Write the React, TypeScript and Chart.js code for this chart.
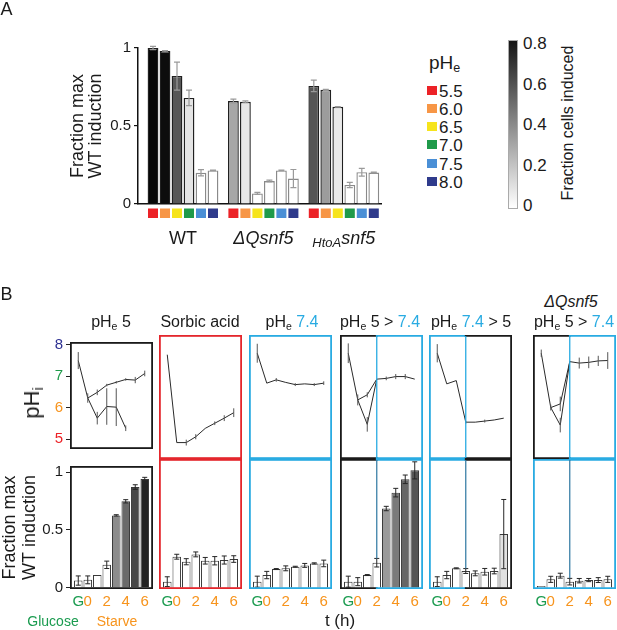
import React, { useEffect, useRef } from 'react';
import { Chart, registerables } from 'chart.js';

Chart.register(...registerables);

const FONT = "'Liberation Sans', Arial, Helvetica, sans-serif";
Chart.defaults.font.family = FONT;
Chart.defaults.color = '#1a1a1a';

// ================= Panel A data =================
const strainNames = ['WT', 'ΔQsnf5', 'HtoAsnf5'];
const pheLevels = ['5.5', '6.0', '6.5', '7.0', '7.5', '8.0'];
const wtInduction = [1.0, 0.98, 0.82, 0.68, 0.2, 0.215];
const wtInductionErr = [0.01, 0.004, 0.09, 0.05, 0.02, 0.002];
const dqInduction = [0.66, 0.655, 0.068, 0.147, 0.215, 0.163];
const dqInductionErr = [0.012, 0.006, 0.006, 0.006, 0.002, 0.058];
const htoaInduction = [0.757, 0.732, 0.623, 0.122, 0.204, 0.202];
const htoaInductionErr = [0.037, 0.003, 0.002, 0.017, 0.025, 0.003];
const inductionTicks = [0, 0.5, 1];
const colorbarTicks = [0, 0.2, 0.4, 0.6, 0.8];

// ================= Panel B data =================
const timePoints = [-1, 0, 1, 2, 3, 4, 5, 6]; // -1 = G (glucose)
const timeTicks = [-1, 0, 2, 4, 6];
const phiTicks = [5, 6, 7, 8];

// pHe 5
const ph5PathA = [7.5, 6.31, 5.67, 6.04, 6.02, 5.35, null, null];
const ph5PathAErr = [0.27, 0.15, 0.2, 0.58, 0.6, 0.09, null, null];
const ph5PathB = [null, 6.31, 6.49, 6.72, 6.81, 6.9, 6.88, 7.09];
const ph5PathBErr = [null, 0, 0.09, 0.04, 0.04, 0.04, 0.1, 0.09];
const ph5Induction = [0.062, 0.068, 0.111, 0.198, 0.625, 0.747, 0.87, 0.94];
const ph5InductionErr = [0.04, 0.034, 0, 0.032, 0.006, 0.014, 0.02, 0.014];

// Sorbic acid
const sorbicPath = [7.55, 5.14, 5.14, 5.3, 5.53, 5.67, 5.81, 5.96];
const sorbicPathErr = [0, 0, 0.08, 0.07, 0, 0.05, 0.08, 0.12];
const sorbicInduction = [0.049, 0.253, 0.212, 0.272, 0.22, 0.22, 0.226, 0.234];
const sorbicInductionErr = [0.04, 0.02, 0.025, 0.02, 0.027, 0.034, 0.033, 0.027];

// pHe 7.4
const ph74Path = [7.59, 6.77, 6.86, 6.79, 6.73, 6.75, 6.73, 6.77];
const ph74PathErr = [0.26, 0, 0.05, 0, 0.04, 0, 0.04, 0.05];
const ph74Induction = [0.049, 0.103, 0.152, 0.158, 0.171, 0.182, 0.198, 0.198];
const ph74InductionErr = [0.045, 0.03, 0.004, 0.02, 0.004, 0.016, 0.005, 0.027];

// pHe 5 > 7.4
const shiftUpPathA = [7.59, 6.31, 5.64, 6.88, null, null, null, null];
const shiftUpPathAErr = [0.27, 0.15, 0.2, 0, null, null, null, null];
const shiftUpPathB = [null, 6.31, 6.45, 6.88, 6.9, 6.95, 6.95, 6.88];
const shiftUpPathBErr = [null, 0, 0.07, 0, 0.05, 0.07, 0.07, 0];
const shiftUpInduction = [0.049, 0.049, 0.103, 0.204, 0.647, 0.777, 0.886, 0.959];
const shiftUpInductionErr = [0.045, 0.033, 0.004, 0.035, 0.018, 0.035, 0.035, 0.07];

// pHe 7.4 > 5
const shiftDownPath = [7.59, 6.75, 6.84, 5.7, 5.7, 5.73, 5.76, 5.81];
const shiftDownPathErr = [0.25, 0, 0, 0.04, 0, 0.04, 0, 0];
const shiftDownInduction = [0.049, 0.103, 0.158, 0.136, 0.117, 0.13, 0.136, 0.438];
const shiftDownInductionErr = [0.04, 0.03, 0.004, 0.02, 0.02, 0.027, 0.023, 0.283];

// ΔQsnf5, pHe 5 > 7.4
const dqShiftPathA = [7.59, 6.1, 5.62, 7.36, null, null, null, null];
const dqShiftPathAErr = [0.1, 0.08, 0.2, 0, null, null, null, null];
const dqShiftPathB = [null, 6.1, 6.2, 7.36, 7.32, 7.34, 7.38, 7.39];
const dqShiftPathBErr = [null, 0, 0.2, 0, 0.15, 0.16, 0.14, 0.23];
const dqShiftInduction = [0.014, 0.068, 0.098, 0.049, 0.057, 0.062, 0.062, 0.068];
const dqShiftInductionErr = [0, 0.025, 0.02, 0.027, 0.018, 0.013, 0.02, 0.025];

// ================= Styles =================
const PHE_COLORS = ['#ec2227', '#f79646', '#f6e41c', '#1f9a4a', '#4a8fd6', '#2f3b8c'];
const PHI_TICK_COLORS: Record<number, string> = { 5: '#ec2227', 6: '#f7941d', 7: '#1f9a4a', 8: '#2e3192' };
const GREEN = '#1a9b4f';
const ORANGE = '#f7941d';
const BLACK = '#1a1a1a';
const RED = '#e4262c';
const BLUE = '#29abe2';
const DIVIDER = '#3c80a8';
const W = '#ffffff';

const wtFill = ['#070707', '#0d0d0d', '#575757', '#e4e4e4', W, W];
const dqFill = ['#a7a7a7', '#e6e6e6', W, W, W, W];
const htoaFill = ['#555555', '#9c9c9c', '#eaeaea', W, W, W];
const ph5Fill = [W, W, W, W, '#8c8c8c', '#6a6a6a', '#474747', '#222222'];
const shiftUpFill = [W, W, W, W, '#9a9a9a', '#7a7a7a', '#666666', '#555555'];
const shiftDownFill = [W, W, W, W, W, W, W, '#e2e2e2'];
const allWhite = [W, W, W, W, W, W, W, W];

// layout constants for panel B
const X_MIN = -1.87;
const X_MAX = 6.87;
const BOX_W = 83;
const UP_TOP = 335;
const UP_BOT = 459;
const LO_TOP = 459;
const LO_BOT = 589;
const GROUP_STEP = 6.7;

// ================= plugins =================
const errorBarsPlugin = {
  id: 'errorBars',
  afterDatasetsDraw(chart: any) {
    const { ctx } = chart;
    chart.data.datasets.forEach((ds: any, i: number) => {
      const meta = chart.getDatasetMeta(i);
      const xs = chart.scales[meta.xAxisID];
      const ys = chart.scales[meta.yAxisID];
      const st = ds.errStyle || { color: '#333', width: 1, cap: 4 };
      ctx.save();
      ctx.strokeStyle = st.color;
      ctx.lineWidth = st.width;
      ds.data.forEach((p: any) => {
        if (!p || !p.e) return;
        const x = xs.getPixelForValue(p.x);
        const y1 = ys.getPixelForValue(p.y + p.e);
        const y2 = ys.getPixelForValue(p.y - p.e);
        ctx.beginPath();
        ctx.moveTo(x, y1);
        ctx.lineTo(x, y2);
        if (st.cap) {
          ctx.moveTo(x - st.cap / 2, y1);
          ctx.lineTo(x + st.cap / 2, y1);
          ctx.moveTo(x - st.cap / 2, y2);
          ctx.lineTo(x + st.cap / 2, y2);
        }
        ctx.stroke();
      });
      ctx.restore();
    });
  },
};

function makeBoxPlugin(spec: { colors: string[]; divider: number | null; dividerColor?: string; dividerTo?: number | null }) {
  return {
    id: 'panelBox',
    afterDraw(chart: any) {
      const { ctx, chartArea: a, scales } = chart;
      const lw = 1.8;
      const h = lw / 2;
      const L = a.left + h, R = a.right - h, T = a.top + h, B = a.bottom - h;
      ctx.save();
      ctx.lineWidth = lw;
      ctx.lineCap = 'square';
      if (spec.divider == null) {
        ctx.strokeStyle = spec.colors[0];
        ctx.strokeRect(L, T, R - L, B - T);
      } else {
        const dx = scales.x.getPixelForValue(spec.divider);
        ctx.strokeStyle = spec.colors[0];
        ctx.beginPath();
        ctx.moveTo(dx, T); ctx.lineTo(L, T); ctx.lineTo(L, B); ctx.lineTo(dx, B);
        ctx.stroke();
        ctx.strokeStyle = spec.colors[1];
        ctx.beginPath();
        ctx.moveTo(dx, T); ctx.lineTo(R, T); ctx.lineTo(R, B); ctx.lineTo(dx, B);
        ctx.stroke();
        const yEnd = spec.dividerTo != null ? scales.y.getPixelForValue(spec.dividerTo) : B;
        ctx.strokeStyle = spec.dividerColor || BLUE;
        ctx.lineWidth = 1.3;
        ctx.lineCap = 'butt';
        ctx.beginPath();
        ctx.moveTo(dx, T);
        ctx.lineTo(dx, yEnd);
        ctx.stroke();
      }
      ctx.restore();
    },
  };
}

// ================= Panel A config =================
const strainValues = [wtInduction, dqInduction, htoaInduction];
const strainErrors = [wtInductionErr, dqInductionErr, htoaInductionErr];
const strainFills = [wtFill, dqFill, htoaFill];
const strainLabelParts = [
  [{ t: 'WT', it: false, sub: false }],
  [{ t: 'ΔQsnf5', it: true, sub: false }],
  [{ t: 'HtoA', it: true, sub: true }, { t: 'snf5', it: true, sub: false }],
];

const strainDecorPlugin = {
  id: 'strainDecor',
  afterDraw(chart: any) {
    const { ctx, chartArea: a, scales } = chart;
    const x = scales.x;
    ctx.save();
    strainValues.forEach((vals, g) => {
      vals.forEach((_, i) => {
        const px = x.getPixelForValue(g * GROUP_STEP + i);
        ctx.fillStyle = PHE_COLORS[i];
        ctx.fillRect(px - 5, a.bottom + 4.5, 10, 9.5);
      });
      const center = x.getPixelForValue(g * GROUP_STEP + (vals.length - 1) / 2);
      const parts = strainLabelParts[g];
      const fonts = parts.map((p) => `${p.it ? 'italic ' : ''}${p.sub ? 13 : 18}px ${FONT}`);
      const widths = parts.map((p, k) => {
        ctx.font = fonts[k];
        return ctx.measureText(p.t).width;
      });
      const total = widths.reduce((s, w) => s + w, 0);
      let cx = center - total / 2;
      ctx.fillStyle = '#1a1a1a';
      ctx.textAlign = 'left';
      ctx.textBaseline = 'alphabetic';
      parts.forEach((p, k) => {
        ctx.font = fonts[k];
        ctx.fillText(p.t, cx, a.bottom + (p.sub ? 43 : 40));
        cx += widths[k];
      });
    });
    ctx.restore();
  },
};

function panelAConfig(): any {
  const data: any[] = [];
  const fills: string[] = [];
  const borders: string[] = [];
  strainValues.forEach((vals, g) => {
    vals.forEach((v, i) => {
      data.push({ x: g * GROUP_STEP + i, y: v, e: strainErrors[g][i] });
      fills.push(strainFills[g][i]);
      borders.push(strainFills[g][i] === W ? '#8a8a8a' : '#202020');
    });
  });
  return {
    type: 'bar',
    data: {
      datasets: [
        {
          data,
          backgroundColor: fills,
          borderColor: borders,
          borderWidth: 1.4,
          barPercentage: 0.9,
          categoryPercentage: 1,
          clip: false,
          errStyle: { color: '#9a9a9a', width: 1.2, cap: 6 },
        },
      ],
    },
    plugins: [errorBarsPlugin, strainDecorPlugin],
    options: {
      animation: false,
      responsive: false,
      events: [],
      layout: { padding: { left: 0, right: 19, top: 48, bottom: 0 } },
      plugins: { legend: { display: false }, tooltip: { enabled: false } },
      scales: {
        x: {
          type: 'linear',
          offset: false,
          min: -1.25,
          max: 19.0,
          afterFit: (s: any) => { s.height = 56; },
          ticks: { display: false },
          grid: { display: false, drawTicks: false },
          border: { display: true, color: '#111', width: 1.5 },
        },
        y: {
          type: 'linear',
          min: 0,
          max: 1,
          afterFit: (s: any) => { s.width = 138; },
          afterBuildTicks: (s: any) => { s.ticks = inductionTicks.map((v) => ({ value: v })); },
          ticks: { font: { size: 15 }, padding: 3, color: '#1a1a1a', callback: (v: any) => String(v) },
          grid: { drawOnChartArea: false, drawTicks: true, tickLength: 4, color: '#111', lineWidth: 1.2 },
          border: { display: true, color: '#111', width: 1.5 },
          title: {
            display: true,
            text: ['Fraction max', 'WT induction'],
            font: { size: 18, lineHeight: 1.0 },
            padding: { top: 69, bottom: 0 },
            color: '#1a1a1a',
          },
        },
      },
    },
  };
}

// ================= Panel B configs =================
type Path = { v: (number | null)[]; e: (number | null)[] };
type PanelB = {
  paths: Path[];
  ind: number[];
  indErr: number[];
  fill: string[];
  left: number;
  upper: string[];
  lower: string[];
  divider: number | null;
};

const panelsB: PanelB[] = [
  { paths: [{ v: ph5PathA, e: ph5PathAErr }, { v: ph5PathB, e: ph5PathBErr }], ind: ph5Induction, indErr: ph5InductionErr, fill: ph5Fill, left: 70, upper: [BLACK], lower: [BLACK], divider: null },
  { paths: [{ v: sorbicPath, e: sorbicPathErr }], ind: sorbicInduction, indErr: sorbicInductionErr, fill: allWhite, left: 159, upper: [RED], lower: [RED], divider: null },
  { paths: [{ v: ph74Path, e: ph74PathErr }], ind: ph74Induction, indErr: ph74InductionErr, fill: allWhite, left: 249, upper: [BLUE], lower: [BLUE], divider: null },
  { paths: [{ v: shiftUpPathA, e: shiftUpPathAErr }, { v: shiftUpPathB, e: shiftUpPathBErr }], ind: shiftUpInduction, indErr: shiftUpInductionErr, fill: shiftUpFill, left: 340, upper: [BLACK, BLUE], lower: [BLACK, BLUE], divider: 2 },
  { paths: [{ v: shiftDownPath, e: shiftDownPathErr }], ind: shiftDownInduction, indErr: shiftDownInductionErr, fill: shiftDownFill, left: 429, upper: [BLUE, BLACK], lower: [BLUE, BLACK], divider: 2 },
  { paths: [{ v: dqShiftPathA, e: dqShiftPathAErr }, { v: dqShiftPathB, e: dqShiftPathBErr }], ind: dqShiftInduction, indErr: dqShiftInductionErr, fill: allWhite, left: 533, upper: [BLACK, BLUE], lower: [BLUE, BLUE], divider: 2 },
];

const PAD_L = 4;
const PAD_R = 1;
const FIRST_AXIS_W = 70;

function canvasGeom(p: PanelB, idx: number, top: number, height: number) {
  const first = idx === 0;
  const left = first ? p.left - FIRST_AXIS_W : p.left - PAD_L;
  const width = (first ? FIRST_AXIS_W : PAD_L) + BOX_W + PAD_R;
  return { left, top, width, height };
}

function upperConfig(p: PanelB, idx: number): any {
  const first = idx === 0;
  const datasets = p.paths.map((path) => ({
    data: timePoints
      .map((t, k) => (path.v[k] == null ? null : { x: t, y: path.v[k], e: path.e[k] }))
      .filter((d) => d !== null),
    borderColor: '#2a2a2a',
    borderWidth: 1,
    pointRadius: 0,
    tension: 0,
    fill: false,
    clip: false,
    errStyle: { color: '#555', width: 1, cap: 0 },
  }));
  const yAxis: any = {
    type: 'linear',
    display: first,
    min: 4.69,
    max: 8.09,
    afterBuildTicks: (s: any) => { s.ticks = phiTicks.map((v) => ({ value: v })); },
    ticks: {
      font: { size: 15 },
      padding: 3,
      color: (c: any) => PHI_TICK_COLORS[c.tick.value] || '#222',
      callback: (v: any) => String(v),
    },
    grid: { drawOnChartArea: false, drawTicks: true, tickLength: 4, color: '#222', lineWidth: 1 },
    border: { display: false },
  };
  if (first) yAxis.afterFit = (s: any) => { s.width = FIRST_AXIS_W; };
  return {
    type: 'line',
    data: { datasets },
    plugins: [errorBarsPlugin, makeBoxPlugin({ colors: p.upper, divider: p.divider, dividerColor: BLUE, dividerTo: null })],
    options: {
      animation: false,
      responsive: false,
      events: [],
      layout: { padding: { left: first ? 0 : PAD_L, right: PAD_R, top: UP_TOP - 330, bottom: 2 } },
      plugins: { legend: { display: false }, tooltip: { enabled: false } },
      scales: {
        x: { type: 'linear', offset: false, display: false, min: X_MIN, max: X_MAX },
        y: yAxis,
      },
    },
  };
}

function lowerConfig(p: PanelB, idx: number): any {
  const first = idx === 0;
  const dIdx = p.divider == null ? -1 : timePoints.indexOf(p.divider);
  const dividerTo = dIdx >= 0 ? p.ind[dIdx] + p.indErr[dIdx] : null;
  const yAxis: any = {
    type: 'linear',
    display: first,
    min: -0.011,
    max: 1.052,
    afterBuildTicks: (s: any) => { s.ticks = inductionTicks.map((v) => ({ value: v })); },
    ticks: { font: { size: 15 }, padding: 3, color: '#1a1a1a', callback: (v: any) => String(v) },
    grid: { drawOnChartArea: false, drawTicks: true, tickLength: 4, color: '#222', lineWidth: 1 },
    border: { display: false },
    title: {
      display: true,
      text: ['Fraction max', 'WT induction'],
      font: { size: 18, lineHeight: 1.1 },
      padding: { top: 0.6, bottom: 0 },
      color: '#1a1a1a',
    },
  };
  if (first) yAxis.afterFit = (s: any) => { s.width = FIRST_AXIS_W; };
  return {
    type: 'bar',
    data: {
      datasets: [
        {
          data: timePoints.map((t, k) => ({ x: t, y: p.ind[k], e: p.indErr[k] })),
          backgroundColor: p.fill,
          borderColor: '#3a3a3a',
          borderWidth: 1,
          barPercentage: 0.9,
          categoryPercentage: 1,
          errStyle: { color: '#262626', width: 1, cap: 5 },
        },
      ],
    },
    plugins: [errorBarsPlugin, makeBoxPlugin({ colors: p.lower, divider: p.divider, dividerColor: DIVIDER, dividerTo })],
    options: {
      animation: false,
      responsive: false,
      events: [],
      layout: { padding: { left: first ? 0 : PAD_L, right: PAD_R, top: LO_TOP - 454, bottom: 0 } },
      plugins: { legend: { display: false }, tooltip: { enabled: false } },
      scales: {
        x: {
          type: 'linear',
          offset: false,
          min: X_MIN,
          max: X_MAX,
          afterFit: (s: any) => { s.height = 630 - LO_BOT; },
          afterBuildTicks: (s: any) => { s.ticks = timeTicks.map((v) => ({ value: v })); },
          ticks: {
            font: { size: 15 },
            padding: 4,
            autoSkip: false,
            maxRotation: 0,
            color: (c: any) => (c.tick.value === -1 ? GREEN : ORANGE),
            callback: (v: any) => (v === -1 ? 'G' : String(v)),
          },
          grid: { display: false, drawTicks: false },
          border: { display: false },
        },
        y: yAxis,
      },
    },
  };
}

// ================= React =================
function ChartCanvas({ left, top, width, height, make }: { left: number; top: number; width: number; height: number; make: () => any }) {
  const ref = useRef<HTMLCanvasElement | null>(null);
  useEffect(() => {
    if (!ref.current) return;
    const chart = new Chart(ref.current, make());
    return () => chart.destroy();
  }, []);
  return <canvas ref={ref} width={width} height={height} style={{ position: 'absolute', left, top, width, height }} />;
}

function Txt({ x, y, size, color = '#1a1a1a', italic = false, rot = false, anchor = 'center', children }: any) {
  const tx = anchor === 'left' ? '0' : '-50%';
  return (
    <div
      style={{
        position: 'absolute',
        left: x,
        top: y,
        transform: `translate(${tx},-50%)${rot ? ' rotate(-90deg)' : ''}`,
        transformOrigin: rot ? '50% 50%' : undefined,
        fontSize: size,
        lineHeight: 1,
        whiteSpace: 'nowrap',
        color,
        fontStyle: italic ? 'italic' : 'normal',
        fontFamily: FONT,
      }}
    >
      {children}
    </div>
  );
}

const Sub = ({ children }: any) => (
  <span style={{ fontSize: '0.66em', verticalAlign: '-0.28em', lineHeight: 0 }}>{children}</span>
);

export default function App() {
  const cbTop = 43;
  const cbBot = 205;
  const cbMax = colorbarTicks[colorbarTicks.length - 1];
  return (
    <div style={{ position: 'absolute', left: 0, top: 0, width: 617, height: 630, overflow: 'hidden', background: '#fff', fontFamily: FONT }}>
      {/* Panel A */}
      <ChartCanvas left={0} top={0} width={400} height={260} make={panelAConfig} />
      <Txt x={6.5} y={9} size={18}>A</Txt>

      {/* pHe legend */}
      <Txt x={429} y={62} size={19} anchor="left">pH<Sub>e</Sub></Txt>
      {pheLevels.map((lv, i) => (
        <React.Fragment key={lv}>
          <div style={{ position: 'absolute', left: 427, top: 90 + i * 18.3 - 4.5, width: 10, height: 9, background: PHE_COLORS[i] }} />
          <Txt x={439} y={90.5 + i * 18.3} size={17} anchor="left">{lv}</Txt>
        </React.Fragment>
      ))}

      {/* colour bar */}
      <div
        style={{
          position: 'absolute',
          left: 508,
          top: 40,
          width: 8,
          height: 167,
          border: '1px solid #aaa',
          background: 'linear-gradient(to top, #ffffff, #151515)',
        }}
      />
      {colorbarTicks.map((v) => (
        <Txt key={v} x={523} y={cbBot - (v / cbMax) * (cbBot - cbTop)} size={17} anchor="left">
          {String(v)}
        </Txt>
      ))}
      <Txt x={567.5} y={123} size={16} rot>Fraction cells induced</Txt>

      {/* Panel B */}
      <Txt x={6.5} y={293.5} size={18}>B</Txt>
      {panelsB.map((p, i) => {
        const g = canvasGeom(p, i, 330, UP_BOT + 2 - 330);
        return <ChartCanvas key={'u' + i} {...g} make={() => upperConfig(p, i)} />;
      })}
      {panelsB.map((p, i) => {
        const g = canvasGeom(p, i, 454, 630 - 454);
        return <ChartCanvas key={'l' + i} {...g} make={() => lowerConfig(p, i)} />;
      })}

      <Txt x={111} y={322} size={16}>pH<Sub>e</Sub> 5</Txt>
      <Txt x={200} y={322} size={16}>Sorbic acid</Txt>
      <Txt x={292} y={322} size={16}>pH<Sub>e</Sub> <span style={{ color: BLUE }}>7.4</span></Txt>
      <Txt x={380} y={322} size={16}>pH<Sub>e</Sub> 5 &gt; <span style={{ color: BLUE }}>7.4</span></Txt>
      <Txt x={471} y={322} size={16}>pH<Sub>e</Sub> <span style={{ color: BLUE }}>7.4</span> &gt; 5</Txt>
      <Txt x={571} y={302} size={16} italic>ΔQsnf5</Txt>
      <Txt x={574} y={322} size={16}>pH<Sub>e</Sub> 5 &gt; <span style={{ color: BLUE }}>7.4</span></Txt>

      <Txt x={32} y={403} size={22} rot>pH<Sub>i</Sub></Txt>

      <Txt x={53} y={621} size={14} color={GREEN}>Glucose</Txt>
      <Txt x={117} y={621} size={14} color={ORANGE}>Starve</Txt>
      <Txt x={340} y={620} size={17}>t (h)</Txt>
    </div>
  );
}
